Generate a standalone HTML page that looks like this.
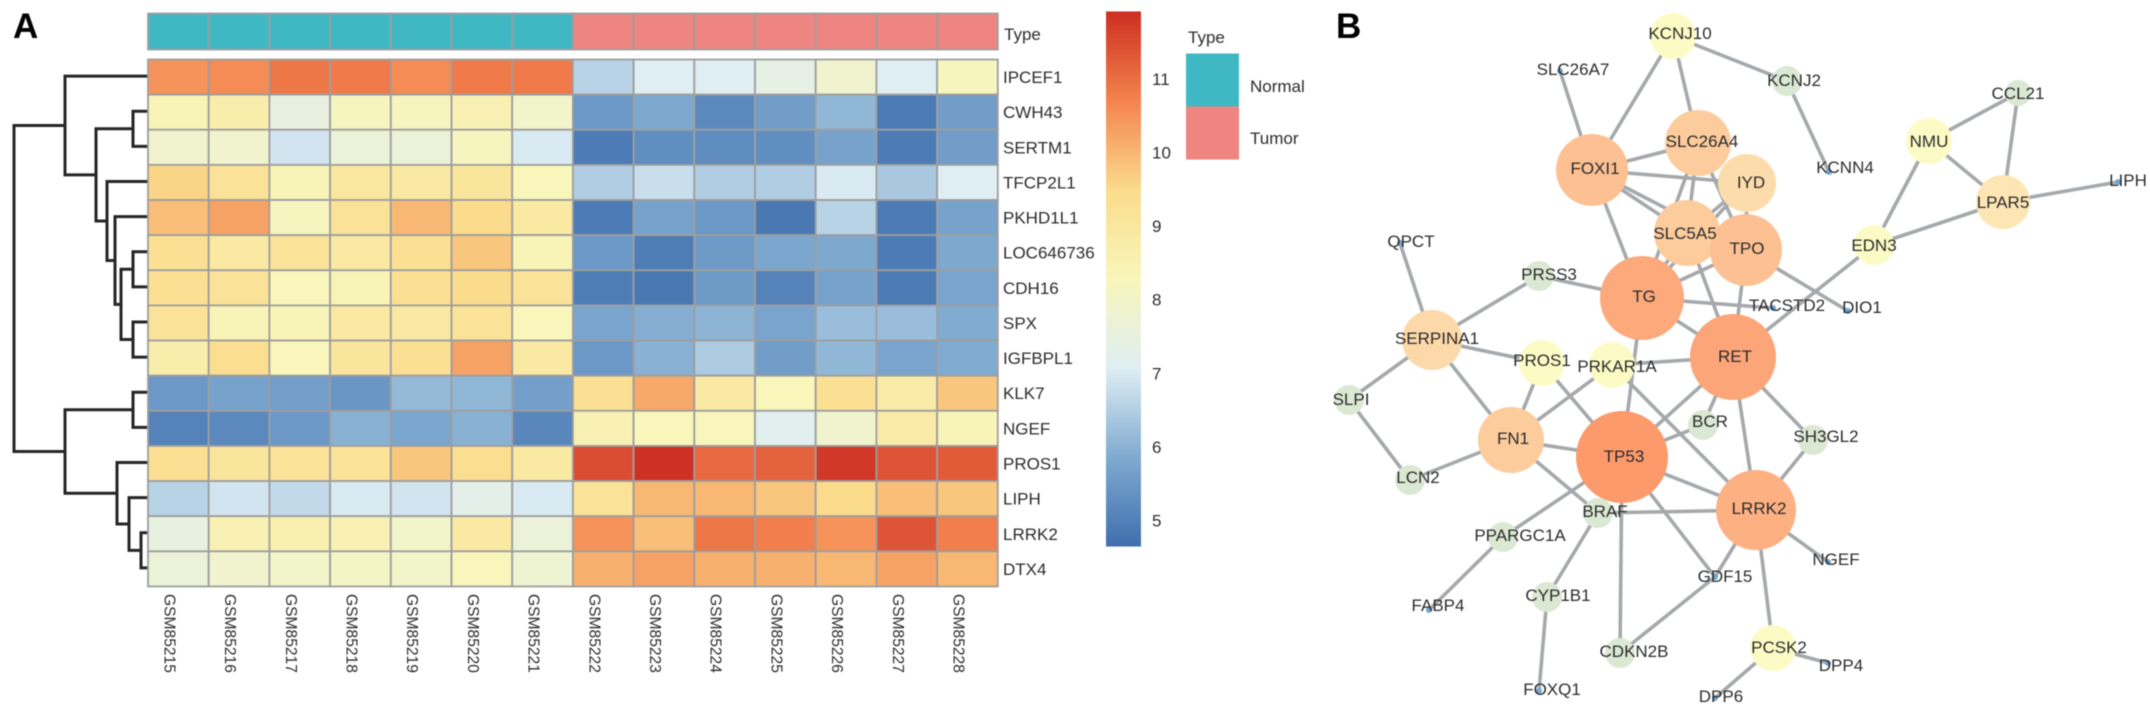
<!DOCTYPE html>
<html lang="en">
<head>
<meta charset="utf-8">
<title>Heatmap and interaction network</title>
<style>
html,body{margin:0;padding:0;background:#fff;width:2150px;height:715px;overflow:hidden}
svg{display:block;filter:blur(.5px)}
text{font-family:"Liberation Sans",sans-serif;fill:#2c2c2c}
</style>
</head>
<body>
<svg id="figure" xmlns="http://www.w3.org/2000/svg" width="2150" height="715" viewBox="0 0 2150 715">
  <rect width="2150" height="715" fill="#ffffff"/>
  <text x="13" y="38" font-size="35" font-weight="bold" style="fill:#000">A</text>
  <text x="1336" y="38" font-size="35" font-weight="bold" style="fill:#000">B</text>
  <g id="network-edges"></g>
  <g id="network-nodes"></g>
  <g id="network-labels"></g>
  <g id="dendrogram"></g>
  <g id="annotation"></g>
  <g id="heatmap"></g>
  <g id="row-labels"></g>
  <g id="col-labels"></g>
  <g id="colorbar"></g>
  <g id="legend"></g>
</svg>
<script>
var samples = ['GSM85215','GSM85216','GSM85217','GSM85218','GSM85219','GSM85220','GSM85221','GSM85222','GSM85223','GSM85224','GSM85225','GSM85226','GSM85227','GSM85228'];
var sampleTypes = ['Normal','Normal','Normal','Normal','Normal','Normal','Normal','Tumor','Tumor','Tumor','Tumor','Tumor','Tumor','Tumor'];
var genes = ['IPCEF1','CWH43','SERTM1','TFCP2L1','PKHD1L1','LOC646736','CDH16','SPX','IGFBPL1','KLK7','NGEF','PROS1','LIPH','LRRK2','DTX4'];
var expression = [
  [10.5,10.6,10.9,10.85,10.6,10.85,10.85,6.6,7.1,7.1,7.4,7.9,7.1,8.2],
  [8.4,8.7,7.5,8.2,8.2,8.5,8.0,5.5,5.85,5.2,5.6,6.1,4.9,5.6],
  [7.9,7.9,6.9,7.7,7.7,8.2,7.0,4.9,5.3,5.25,5.3,5.7,4.9,5.6],
  [9.6,9.2,8.4,9.0,8.9,9.1,8.3,6.5,6.8,6.5,6.5,7.0,6.4,7.1],
  [9.9,10.3,8.2,9.2,10.0,9.5,8.9,4.9,5.7,5.5,4.85,6.6,4.9,5.7],
  [9.3,8.9,9.2,8.9,9.3,9.8,8.4,5.5,4.95,5.55,5.8,5.85,4.9,5.85],
  [9.3,9.2,8.3,8.4,9.3,9.5,9.2,4.95,4.85,5.55,5.05,5.7,4.9,5.75],
  [9.2,8.4,8.4,8.9,8.9,9.2,8.3,5.75,5.95,6.05,5.75,6.2,6.2,5.9],
  [8.7,9.4,8.3,9.1,9.3,10.3,8.9,5.5,6.0,6.45,5.6,6.1,5.75,5.9],
  [5.5,5.7,5.65,5.45,6.15,6.1,5.65,9.3,10.2,8.9,8.3,9.3,8.8,9.8],
  [5.05,5.2,5.5,6.0,5.8,6.0,5.15,8.5,8.3,8.3,7.2,7.9,8.8,8.4],
  [9.3,9.1,9.2,9.2,9.8,9.4,8.9,11.5,11.9,11.1,11.2,11.8,11.4,11.3],
  [6.6,6.9,6.7,7.0,6.9,7.3,7.0,9.2,10.0,10.0,9.8,9.5,9.9,9.8],
  [7.5,8.5,8.6,8.5,8.0,8.9,7.7,10.5,9.9,10.9,10.8,10.5,11.4,10.8],
  [7.7,7.9,8.0,8.1,8.0,8.3,7.8,10.1,10.3,10.1,10.1,10.0,10.3,10.0]
];
var colorbarTicks = [5,6,7,8,9,10,11];
var colorValues = [4.66,5.87,7.08,8.29,9.5,10.71,11.93];
var colorHexes = ['#3f6fae','#7faad0','#dfeef4','#f8f6bb','#fbdc8c','#f4844f','#cd2f22'];
var typeNames = ['Normal','Tumor'];
var typeHexes = ['#40b8c4','#ef8580'];
/* dendrogram merges: [childA, childB, height]; ids >= genes.length refer to earlier merges */
var dendroMerges = [
  [1,2,15],[5,6,15],[7,8,15],[16,17,27],[4,18,33],[3,19,41],[15,20,52],[0,21,83],
  [9,10,15],[13,14,7],[12,24,19],[11,25,31],[23,26,83],[22,27,134]
];
var nodeNames = ['KCNJ10','SLC26A7','KCNJ2','KCNN4','SLC26A4','FOXI1','IYD','SLC5A5','TPO','TG','RET','TACSTD2','DIO1','PRSS3','QPCT','SERPINA1','PROS1','PRKAR1A','SLPI','LCN2','FN1','TP53','BCR','SH3GL2','LRRK2','BRAF','PPARGC1A','FABP4','CYP1B1','GDF15','NGEF','CDKN2B','PCSK2','DPP4','DPP6','FOXQ1','EDN3','NMU','CCL21','LPAR5','LIPH'];
var nodeScores = [6,1,4,1,8.5,9.25,7.5,8.5,9.25,10.75,11,1,1,4,1,7.75,6,6,4,4,8.5,11.75,4,4,10.25,4,4,1,4,1,1,4,6,1,1,1,5.25,6,3.5,7,1];
var nodeLayoutX = [1673,1560,1787,1829,1698,1592,1747,1687,1746,1642,1733,1773,1848,1539,1400,1432,1542,1612,1349,1410,1511,1622,1703,1813,1756,1598,1503,1429,1547,1715,1828,1620,1773,1828,1715,1539,1874,1929,2018,2003,2118];
var nodeLayoutY = [36,71,81,172,143,170,183,233,250,298,357,308,311,276,243,340,363,365,400,480,440,457,425,440,510,513,537,610,597,577,562,653,648,663,698,691,245,141,93,202,182];
var labelLayoutX = [1680,1573,1794,1845,1702,1595,1751,1685,1747,1644,1735,1787,1862,1549,1411,1437,1542,1617,1351,1418,1513,1624,1710,1826,1759,1605,1520,1438,1558,1725,1836,1634,1779,1841,1721,1552,1874,1929,2018,2003,2128];
var labelLayoutY = [33,69,80,167,141,168,182,233,248,296,356,305,307,274,241,338,360,366,399,477,438,456,421,436,508,511,535,605,595,576,559,651,647,665,696,689,245,141,93,202,180];
var edgePairs = [
  ['KCNJ10','FOXI1'],['KCNJ10','SLC26A4'],['KCNJ10','KCNJ2'],['KCNJ2','KCNN4'],['SLC26A7','FOXI1'],
  ['FOXI1','SLC26A4'],['FOXI1','IYD'],['FOXI1','SLC5A5'],['FOXI1','TPO'],['FOXI1','TG'],
  ['SLC26A4','SLC5A5'],['SLC26A4','TPO'],['SLC26A4','TG'],['IYD','TPO'],['IYD','SLC5A5'],['IYD','TG'],
  ['SLC5A5','TPO'],['SLC5A5','TG'],['SLC5A5','RET'],['TPO','TG'],['TPO','RET'],['TPO','DIO1'],
  ['TG','RET'],['TG','TACSTD2'],['TG','TP53'],['TG','PRSS3'],['QPCT','SERPINA1'],['PRSS3','SERPINA1'],
  ['SERPINA1','PROS1'],['SERPINA1','FN1'],['SERPINA1','SLPI'],['SLPI','LCN2'],['LCN2','FN1'],
  ['PROS1','FN1'],['PROS1','TP53'],['PRKAR1A','FN1'],['PRKAR1A','RET'],['PRKAR1A','LRRK2'],
  ['FN1','TP53'],['FN1','BRAF'],['TP53','RET'],['TP53','BCR'],['BCR','RET'],['TP53','LRRK2'],
  ['TP53','PPARGC1A'],['TP53','GDF15'],['TP53','CDKN2B'],['BRAF','LRRK2'],['BRAF','CYP1B1'],
  ['PPARGC1A','FABP4'],['CYP1B1','FOXQ1'],['RET','LRRK2'],['RET','SH3GL2'],['SH3GL2','LRRK2'],
  ['LRRK2','GDF15'],['GDF15','CDKN2B'],['LRRK2','NGEF'],['LRRK2','PCSK2'],['PCSK2','DPP4'],['PCSK2','DPP6'],
  ['RET','EDN3'],['EDN3','NMU'],['EDN3','LPAR5'],['NMU','LPAR5'],['NMU','CCL21'],['CCL21','LPAR5'],['LPAR5','LIPH']
];
var scoreStops = [1,3,4,5,6,7.5,9.25,11.75];
var scoreHexes = ['#6ea8d8','#dbe8d3','#dbe8d3','#fdfbc5','#fdfbc5','#fddcab','#fdc093','#fc9a6c'];

var NS = 'http://www.w3.org/2000/svg';
function make(tag, attrs, parent, txt) {
  var el = document.createElementNS(NS, tag);
  for (var k in attrs) el.setAttribute(k, attrs[k]);
  if (txt !== undefined) el.textContent = txt;
  parent.appendChild(el);
  return el;
}
function hexRgb(h) { return [parseInt(h.substr(1,2),16), parseInt(h.substr(3,2),16), parseInt(h.substr(5,2),16)]; }
function ramp(v, stops, hexes) {
  if (v <= stops[0]) return hexes[0];
  for (var i = 1; i < stops.length; i++) {
    if (v <= stops[i]) {
      var t = (v - stops[i-1]) / (stops[i] - stops[i-1]);
      var a = hexRgb(hexes[i-1]), b = hexRgb(hexes[i]);
      return 'rgb(' + Math.round(a[0]+(b[0]-a[0])*t) + ',' + Math.round(a[1]+(b[1]-a[1])*t) + ',' + Math.round(a[2]+(b[2]-a[2])*t) + ')';
    }
  }
  return hexes[hexes.length-1];
}
var heatLeft = 148, cellW = 60.7, heatTop = 59.5, cellH = 35.13;
function colX(i) { return heatLeft + i * cellW; }
function rowY(i) { return heatTop + i * cellH; }
function dendroX(h) { return heatLeft - h; }
function barY(v) { return 521.5 - (v - 5) * 73.6; }
function nodeR(s) { return 3 + (s - 1) * 4; }

/* annotation */
var annG = document.getElementById('annotation');
samples.forEach(function (s, i) {
  var r = make('rect', {x: colX(i), y: 13.5, width: cellW, height: 36, fill: typeHexes[typeNames.indexOf(sampleTypes[i])], stroke: '#9e9e9e', 'stroke-width': 1.8}, annG);
  
  
});
var annLabel = make('text', {x: 1004, y: 40, 'font-size': 17}, annG, 'Type');



/* heatmap */
var heatG = document.getElementById('heatmap');
expression.forEach(function (row, r) {
  row.forEach(function (v, c) {
    var cell = make('rect', {x: colX(c), y: rowY(r), width: cellW, height: cellH, fill: ramp(v, colorValues, colorHexes), stroke: '#9e9e9e', 'stroke-width': 1.8}, heatG);
    
    
  });
});

/* row labels */
var rowG = document.getElementById('row-labels');
genes.forEach(function (g, i) {
  var t = make('text', {x: 1003, y: rowY(i) + cellH / 2 + 6, 'font-size': 17}, rowG, g);
  
  
});

/* column labels */
var colG = document.getElementById('col-labels');
samples.forEach(function (s, i) {
  var cx = colX(i) + cellW / 2 - 14;
  var t = make('text', {x: 0, y: 0, 'font-size': 15.6, transform: 'translate(' + cx + ',594) rotate(90)'}, colG, s);
  
  
});

/* dendrogram */
var dG = document.getElementById('dendrogram');
var dendroPos = {};
genes.forEach(function (g, i) { dendroPos[i] = {x: heatLeft, y: rowY(i) + cellH / 2 - 1}; });
dendroMerges.forEach(function (m, i) {
  var a = dendroPos[m[0]], b = dendroPos[m[1]], x = dendroX(m[2]);
  var p = make('path', {d: 'M' + a.x + ' ' + a.y + 'H' + x + 'V' + b.y + 'H' + b.x, fill: 'none', stroke: '#262626', 'stroke-width': 3}, dG);
  
  
  dendroPos[genes.length + i] = {x: x, y: (a.y + b.y) / 2};
});

/* colorbar */
var cbG = document.getElementById('colorbar');
var defs = make('defs', {}, cbG);
var grad = make('linearGradient', {id: 'cbGrad', x1: 0, y1: 1, x2: 0, y2: 0}, defs);
colorValues.forEach(function (v, i) {
  make('stop', {offset: (v - colorValues[0]) / (colorValues[colorValues.length-1] - colorValues[0]), 'stop-color': colorHexes[i]}, grad);
});
var topV = colorValues[colorValues.length-1], botV = colorValues[0];
var cbRect = make('rect', {x: 1106, y: barY(topV), width: 35, height: barY(botV) - barY(topV), fill: 'url(#cbGrad)'}, cbG);


colorbarTicks.forEach(function (v) {
  var t = make('text', {x: 1152, y: barY(v) + 5, 'font-size': 17}, cbG, String(v));
  
  
});

/* legend */
var lgG = document.getElementById('legend');
var lgTitle = make('text', {x: 1188, y: 43, 'font-size': 17}, lgG, 'Type');


typeNames.forEach(function (n, i) {
  var sw = make('rect', {x: 1186, y: 53.5 + i * 53, width: 53, height: 53, fill: typeHexes[i]}, lgG);
  
  
  var t = make('text', {x: 1250, y: 92 + i * 52, 'font-size': 17}, lgG, n);
  
  
});

/* network */
var eG = document.getElementById('network-edges');
var nG = document.getElementById('network-nodes');
var lG = document.getElementById('network-labels');
edgePairs.forEach(function (pair) {
  var a = nodeNames.indexOf(pair[0]), b = nodeNames.indexOf(pair[1]);
  var e = make('line', {x1: nodeLayoutX[a], y1: nodeLayoutY[a], x2: nodeLayoutX[b], y2: nodeLayoutY[b], stroke: '#a6a9ac', 'stroke-width': 3.6}, eG);
  
  
});
nodeNames.forEach(function (n, i) {
  var c = make('circle', {cx: nodeLayoutX[i], cy: nodeLayoutY[i], r: nodeR(nodeScores[i]), fill: ramp(nodeScores[i], scoreStops, scoreHexes)}, nG);
  
  
  var t = make('text', {x: labelLayoutX[i], y: labelLayoutY[i] + 6, 'font-size': 17, 'text-anchor': 'middle'}, lG, n);
  
  
});
</script>
</body>
</html>
